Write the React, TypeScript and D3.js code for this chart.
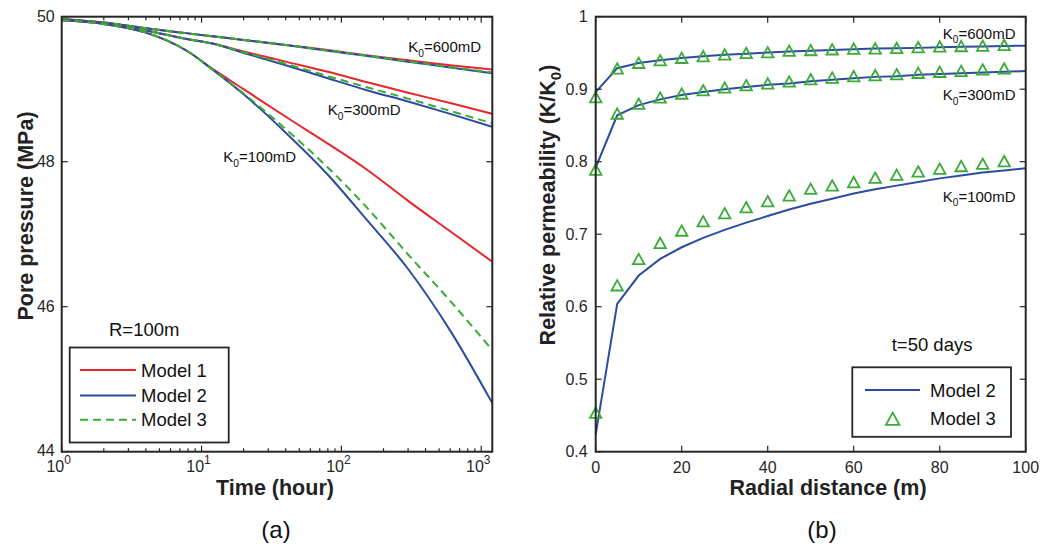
import React, { useEffect, useRef } from 'react';
import * as d3 from 'd3';

// ---------- panel (a): pore pressure vs time (R = 100 m) ----------
const timeHours = [1, 2, 4, 8, 12, 20, 40, 80, 150, 300, 600, 1200];

const p600Model1 = [49.97, 49.92, 49.84, 49.77, 49.73, 49.68, 49.61, 49.54, 49.47, 49.40, 49.33, 49.27];
const p600Model2 = [49.97, 49.92, 49.84, 49.77, 49.73, 49.68, 49.61, 49.53, 49.46, 49.38, 49.30, 49.22];
const p600Model3 = [49.97, 49.92, 49.84, 49.77, 49.73, 49.68, 49.61, 49.535, 49.465, 49.385, 49.305, 49.23];

const p300Model1 = [49.96, 49.91, 49.81, 49.69, 49.63, 49.52, 49.38, 49.24, 49.10, 48.95, 48.81, 48.66];
const p300Model2 = [49.96, 49.91, 49.81, 49.69, 49.63, 49.50, 49.33, 49.15, 48.99, 48.83, 48.66, 48.48];
const p300Model3 = [49.96, 49.91, 49.81, 49.69, 49.63, 49.51, 49.35, 49.18, 49.03, 48.87, 48.70, 48.53];

const p100Model1 = [49.95, 49.90, 49.78, 49.52, 49.28, 49.00, 48.62, 48.25, 47.90, 47.46, 47.04, 46.62];
const p100Model2 = [49.95, 49.90, 49.78, 49.52, 49.27, 48.93, 48.40, 47.82, 47.21, 46.52, 45.67, 44.67];
const p100Model3 = [49.95, 49.90, 49.78, 49.52, 49.27, 48.94, 48.45, 47.92, 47.38, 46.72, 46.08, 45.40];

const pressureTicks = [44, 46, 48, 50];
const timeTicks = [1, 10, 100, 1000];

// ---------- panel (b): relative permeability vs radial distance (t = 50 days) ----------
const radialModel2 = [0, 5, 10, 15, 20, 25, 30, 35, 40, 45, 50, 55, 60, 65, 70, 75, 80, 85, 90, 95, 100];
const k600Model2 = [0.896, 0.929, 0.936, 0.940, 0.943, 0.9455, 0.9475, 0.949, 0.9505, 0.952, 0.953, 0.954, 0.955, 0.956, 0.9565, 0.957, 0.958, 0.9585, 0.959, 0.9595, 0.960];
const k300Model2 = [0.792, 0.864, 0.878, 0.886, 0.892, 0.896, 0.900, 0.903, 0.906, 0.908, 0.911, 0.913, 0.915, 0.917, 0.918, 0.920, 0.921, 0.922, 0.923, 0.924, 0.925];
const k100Model2 = [0.424, 0.604, 0.643, 0.666, 0.682, 0.695, 0.706, 0.716, 0.725, 0.734, 0.742, 0.749, 0.756, 0.762, 0.767, 0.772, 0.777, 0.781, 0.785, 0.788, 0.791];

const radialModel3 = [0, 5, 10, 15, 20, 25, 30, 35, 40, 45, 50, 55, 60, 65, 70, 75, 80, 85, 90, 95];
const k600Model3 = [0.889, 0.9286, 0.9364, 0.940, 0.9433, 0.9456, 0.948, 0.950, 0.951, 0.953, 0.954, 0.955, 0.956, 0.9563, 0.957, 0.958, 0.959, 0.9595, 0.960, 0.961];
const k300Model3 = [0.789, 0.8664, 0.880, 0.8885, 0.894, 0.8986, 0.9023, 0.9055, 0.908, 0.9106, 0.9138, 0.916, 0.918, 0.9194, 0.9207, 0.9226, 0.924, 0.9253, 0.9272, 0.9286];
const k100Model3 = [0.4537, 0.6295, 0.6658, 0.688, 0.705, 0.7178, 0.729, 0.7372, 0.7455, 0.7534, 0.7627, 0.7672, 0.7718, 0.7779, 0.782, 0.7866, 0.7903, 0.794, 0.7972, 0.8008];

const permTicks = [0.4, 0.5, 0.6, 0.7, 0.8, 0.9, 1];
const radialTicks = [0, 20, 40, 60, 80, 100];

const FONT = "'Liberation Sans', Arial, Helvetica, sans-serif";
const AXIS = '#262626';
const RED = '#e8262b';
const BLUE = '#2b4c9f';
const GREEN = '#3aab36';

const W = 1041, H = 546;
const boxA = { left: 61.7, right: 492.3, top: 16.7, bottom: 451.7 };
const boxB = { left: 595.7, right: 1025.7, top: 16.7, bottom: 451.7 };

type Sel = d3.Selection<SVGGElement, unknown, null, undefined>;

// text with a subscript 0 after "K"
function kLabel(g: Sel, x: number, y: number, rest: string, size: number) {
  const t = g.append('text').attr('x', x).attr('y', y)
    .attr('font-family', FONT).attr('font-size', size).attr('fill', '#111');
  t.append('tspan').text('K');
  t.append('tspan').attr('dy', size * 0.3).attr('font-size', size * 0.68).text('0');
  t.append('tspan').attr('dy', -size * 0.3).text(rest);
}

function triangle(size: number) {
  const w = size, h = size * 0.9;
  return `M0,${-h / 2}L${w / 2},${h / 2}L${-w / 2},${h / 2}Z`;
}

function drawPanelA(svg: Sel) {
  const x = d3.scaleLog().domain([1, 1200]).range([boxA.left, boxA.right]);
  const y = d3.scaleLinear().domain([44, 50]).range([boxA.bottom, boxA.top]);
  const g = svg.append('g');

  const line = d3.line<number>()
    .x((d, i) => x(timeHours[i]))
    .y(d => y(d))
    .curve(d3.curveMonotoneX);

  const series = [
    { v: p600Model1, c: RED, dash: null },
    { v: p600Model2, c: BLUE, dash: null },
    { v: p600Model3, c: GREEN, dash: '8,5' },
    { v: p300Model1, c: RED, dash: null },
    { v: p300Model2, c: BLUE, dash: null },
    { v: p300Model3, c: GREEN, dash: '8,5' },
    { v: p100Model1, c: RED, dash: null },
    { v: p100Model2, c: BLUE, dash: null },
    { v: p100Model3, c: GREEN, dash: '8,5' },
  ];
  series.forEach(s => {
    g.append('path').attr('d', line(s.v) as string)
      .attr('fill', 'none').attr('stroke', s.c).attr('stroke-width', 2)
      .attr('stroke-dasharray', s.dash);
  });

  // ticks, inside on all four sides
  const minor = x.ticks();
  minor.forEach(t => {
    const major = timeTicks.includes(t);
    const len = major ? 6 : 3.5;
    g.append('line').attr('x1', x(t)).attr('x2', x(t)).attr('y1', boxA.bottom).attr('y2', boxA.bottom - len)
      .attr('stroke', AXIS).attr('stroke-width', 1.2);
    g.append('line').attr('x1', x(t)).attr('x2', x(t)).attr('y1', boxA.top).attr('y2', boxA.top + len)
      .attr('stroke', AXIS).attr('stroke-width', 1.2);
  });
  pressureTicks.forEach(t => {
    g.append('line').attr('x1', boxA.left).attr('x2', boxA.left + 6).attr('y1', y(t)).attr('y2', y(t))
      .attr('stroke', AXIS).attr('stroke-width', 1.2);
    g.append('line').attr('x1', boxA.right).attr('x2', boxA.right - 6).attr('y1', y(t)).attr('y2', y(t))
      .attr('stroke', AXIS).attr('stroke-width', 1.2);
    g.append('text').attr('x', boxA.left - 7).attr('y', y(t)).attr('dy', t === 44 ? '0.28em' : '0.36em')
      .attr('text-anchor', 'end').attr('font-family', FONT).attr('font-size', 16).attr('fill', AXIS)
      .text(t);
  });
  timeTicks.forEach(t => {
    const txt = g.append('text').attr('x', x(t) - 3).attr('y', 472)
      .attr('text-anchor', 'middle').attr('font-family', FONT).attr('font-size', 16).attr('fill', AXIS);
    txt.append('tspan').text('10');
    txt.append('tspan').attr('dy', -8).attr('font-size', 12).text(String(Math.round(Math.log10(t))));
  });

  g.append('rect').attr('x', boxA.left).attr('y', boxA.top)
    .attr('width', boxA.right - boxA.left).attr('height', boxA.bottom - boxA.top)
    .attr('fill', 'none').attr('stroke', AXIS).attr('stroke-width', 2);

  // annotations
  kLabel(g, 408.3, 52, '=600mD', 15);
  kLabel(g, 327.7, 115, '=300mD', 15);
  kLabel(g, 223.3, 162, '=100mD', 15);
  g.append('text').attr('x', 109).attr('y', 336.3).attr('font-family', FONT).attr('font-size', 18.5)
    .attr('fill', '#111').text('R=100m');

  // legend
  g.append('rect').attr('x', 69.7).attr('y', 347.5).attr('width', 159).attr('height', 95)
    .attr('fill', 'white').attr('stroke', AXIS).attr('stroke-width', 1.8);
  const items = [
    { name: 'Model 1', c: RED, dash: null, yy: 370 },
    { name: 'Model 2', c: BLUE, dash: null, yy: 395.4 },
    { name: 'Model 3', c: GREEN, dash: '8,5', yy: 419.7 },
  ];
  items.forEach(it => {
    g.append('line').attr('x1', 80).attr('x2', 136).attr('y1', it.yy).attr('y2', it.yy)
      .attr('stroke', it.c).attr('stroke-width', 2).attr('stroke-dasharray', it.dash);
    g.append('text').attr('x', 141).attr('y', it.yy).attr('dy', '0.36em')
      .attr('font-family', FONT).attr('font-size', 18.5).attr('fill', '#111').text(it.name);
  });

  // axis titles
  g.append('text').attr('x', (boxA.left + boxA.right) / 2 - 2).attr('y', 495)
    .attr('text-anchor', 'middle').attr('font-family', FONT).attr('font-size', 21.5)
    .attr('font-weight', 'bold').attr('fill', '#222').text('Time (hour)');
  g.append('text').attr('transform', 'translate(33,216) rotate(-90)')
    .attr('text-anchor', 'middle').attr('font-family', FONT).attr('font-size', 21.5)
    .attr('font-weight', 'bold').attr('fill', '#222').text('Pore pressure (MPa)');
  g.append('text').attr('x', 276).attr('y', 538).attr('text-anchor', 'middle')
    .attr('font-family', FONT).attr('font-size', 24).attr('fill', '#111').text('(a)');
}

function drawPanelB(svg: Sel) {
  const x = d3.scaleLinear().domain([0, 100]).range([boxB.left, boxB.right]);
  const y = d3.scaleLinear().domain([0.4, 1]).range([boxB.bottom, boxB.top]);
  const g = svg.append('g');

  const line = d3.line<number>()
    .x((d, i) => x(radialModel2[i]))
    .y(d => y(d));

  [k600Model2, k300Model2, k100Model2].forEach(v => {
    g.append('path').attr('d', line(v) as string)
      .attr('fill', 'none').attr('stroke', BLUE).attr('stroke-width', 2);
  });
  [k600Model3, k300Model3, k100Model3].forEach(v => {
    g.selectAll(null).data(v).enter().append('path')
      .attr('d', triangle(11.5))
      .attr('transform', (d, i) => `translate(${x(radialModel3[i])},${y(d)})`)
      .attr('fill', 'none').attr('stroke', GREEN).attr('stroke-width', 1.8);
  });

  radialTicks.forEach(t => {
    g.append('line').attr('x1', x(t)).attr('x2', x(t)).attr('y1', boxB.bottom).attr('y2', boxB.bottom - 6)
      .attr('stroke', AXIS).attr('stroke-width', 1.2);
    g.append('line').attr('x1', x(t)).attr('x2', x(t)).attr('y1', boxB.top).attr('y2', boxB.top + 6)
      .attr('stroke', AXIS).attr('stroke-width', 1.2);
    g.append('text').attr('x', x(t)).attr('y', 473).attr('text-anchor', 'middle')
      .attr('font-family', FONT).attr('font-size', 16).attr('fill', AXIS).text(t);
  });
  permTicks.forEach(t => {
    g.append('line').attr('x1', boxB.left).attr('x2', boxB.left + 6).attr('y1', y(t)).attr('y2', y(t))
      .attr('stroke', AXIS).attr('stroke-width', 1.2);
    g.append('line').attr('x1', boxB.right).attr('x2', boxB.right - 6).attr('y1', y(t)).attr('y2', y(t))
      .attr('stroke', AXIS).attr('stroke-width', 1.2);
    g.append('text').attr('x', boxB.left - 8).attr('y', y(t)).attr('dy', '0.36em')
      .attr('text-anchor', 'end').attr('font-family', FONT).attr('font-size', 16).attr('fill', AXIS)
      .text(t);
  });

  g.append('rect').attr('x', boxB.left).attr('y', boxB.top)
    .attr('width', boxB.right - boxB.left).attr('height', boxB.bottom - boxB.top)
    .attr('fill', 'none').attr('stroke', AXIS).attr('stroke-width', 2);

  kLabel(g, 942.7, 38.5, '=600mD', 15);
  kLabel(g, 942.7, 100, '=300mD', 15);
  kLabel(g, 942.7, 201.5, '=100mD', 15);
  g.append('text').attr('x', 891.7).attr('y', 350.5).attr('font-family', FONT).attr('font-size', 18.5)
    .attr('fill', '#111').text('t=50 days');

  // legend
  g.append('rect').attr('x', 852.3).attr('y', 367.3).attr('width', 158.7).attr('height', 69.5)
    .attr('fill', 'white').attr('stroke', AXIS).attr('stroke-width', 1.8);
  g.append('line').attr('x1', 865).attr('x2', 920).attr('y1', 390).attr('y2', 390)
    .attr('stroke', BLUE).attr('stroke-width', 2);
  g.append('path').attr('d', triangle(13.5)).attr('transform', 'translate(892.7,418.7)')
    .attr('fill', 'none').attr('stroke', GREEN).attr('stroke-width', 1.8);
  g.append('text').attr('x', 930).attr('y', 390).attr('dy', '0.36em').attr('font-family', FONT)
    .attr('font-size', 18.5).attr('fill', '#111').text('Model 2');
  g.append('text').attr('x', 930).attr('y', 418.7).attr('dy', '0.36em').attr('font-family', FONT)
    .attr('font-size', 18.5).attr('fill', '#111').text('Model 3');

  g.append('text').attr('x', 828).attr('y', 495).attr('text-anchor', 'middle')
    .attr('font-family', FONT).attr('font-size', 21.5).attr('font-weight', 'bold').attr('fill', '#222')
    .text('Radial distance (m)');
  const yt = g.append('text').attr('transform', 'translate(555,205) rotate(-90)')
    .attr('text-anchor', 'middle').attr('font-family', FONT).attr('font-size', 21.5)
    .attr('font-weight', 'bold').attr('fill', '#222');
  yt.append('tspan').text('Relative permeability (K/K');
  yt.append('tspan').attr('dy', 6).attr('font-size', 15).text('0');
  yt.append('tspan').attr('dy', -6).text(')');
  g.append('text').attr('x', 822).attr('y', 538).attr('text-anchor', 'middle')
    .attr('font-family', FONT).attr('font-size', 24).attr('fill', '#111').text('(b)');
}

export default function App() {
  const ref = useRef<SVGSVGElement>(null);

  useEffect(() => {
    const svg = d3.select(ref.current);
    svg.selectAll('*').remove();
    const root = svg.append('g') as unknown as Sel;
    drawPanelA(root);
    drawPanelB(root);
  }, []);

  return (
    <svg ref={ref} width={W} height={H}
      style={{ position: 'absolute', left: 0, top: 0, background: 'white' }} />
  );
}
